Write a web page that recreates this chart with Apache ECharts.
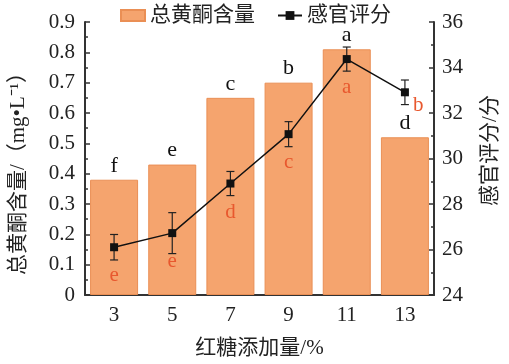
<!DOCTYPE html>
<html><head><meta charset="utf-8">
<script src="https://cdn.jsdelivr.net/npm/echarts@6/dist/echarts.min.js"></script>
<style>html,body{margin:0;padding:0;background:#fff}#c{width:509px;height:364px}</style>
</head><body><div id="c"></div>
<script>
var categories = ['3', '5', '7', '9', '11', '13'];
var flavonoid = [0.38, 0.43, 0.65, 0.70, 0.81, 0.52];
var flavonoidLetters = ['f', 'e', 'c', 'b', 'a', 'd'];
var sensory = [26.1, 26.72, 28.9, 31.07, 34.37, 32.91];
var sensoryErr = [0.56, 0.9, 0.53, 0.55, 0.53, 0.54];
var sensoryLetters = ['e', 'e', 'd', 'c', 'a', 'b'];

var FONT = '"Liberation Serif", "Noto Sans CJK SC", serif';
var chart = echarts.init(document.getElementById('c'));
var axisColor = '#333';

chart.setOption({
  animation: false,
  textStyle: {fontFamily: FONT},
  legend: {
    left: 115, top: 0, itemGap: 22, itemWidth: 24, itemHeight: 11,
    textStyle: {fontFamily: FONT, fontSize: 21, color: '#222'},
    data: [{name: '总黄酮含量', icon: 'rect'}, {name: '感官评分'}]
  },
  grid: {left: 83, right: 72, top: 22, bottom: 67},
  xAxis: [{
    type: 'category', data: categories,
    name: '红糖添加量/%', nameLocation: 'middle', nameGap: 43,
    nameTextStyle: {fontFamily: FONT, fontSize: 21, color: '#222'},
    axisLine: {lineStyle: {color: axisColor, width: 2}},
    axisTick: {inside: true, alignWithLabel: true, length: 5, lineStyle: {color: axisColor, width: 1.5}},
    axisLabel: {fontFamily: FONT, fontSize: 21, color: '#222', margin: 10}
  }, {
    type: 'category', data: categories, position: 'bottom',
    axisLine: {show: false},
    axisTick: {inside: true, length: 3, lineStyle: {color: axisColor, width: 1.5}},
    axisLabel: {show: false}
  }],
  yAxis: [{
    type: 'value', min: 0, max: 0.9, interval: 0.1,
    name: '总黄酮含量/（mg•L⁻¹）', nameLocation: 'middle', nameGap: 56, nameRotate: 90,
    nameTextStyle: {fontFamily: FONT, fontSize: 21, color: '#222', padding: [0, 20, 0, 0]},
    axisLine: {show: true, lineStyle: {color: axisColor, width: 2}},
    axisTick: {show: true, inside: true, length: 5, lineStyle: {color: axisColor, width: 1.5}},
    minorTick: {show: true, splitNumber: 2, length: 3, lineStyle: {color: axisColor, width: 1.5}},
    splitLine: {show: false},
    axisLabel: {fontFamily: FONT, fontSize: 21, color: '#222', margin: 10,
      formatter: function (v) { return v === 0 ? '0' : v.toFixed(1); }}
  }, {
    type: 'value', min: 24, max: 36, interval: 2, position: 'right',
    name: '感官评分/分', nameLocation: 'middle', nameGap: 46, nameRotate: 90,
    nameTextStyle: {fontFamily: FONT, fontSize: 21, color: '#222', padding: [0, 0, 0, 16]},
    axisLine: {show: true, lineStyle: {color: axisColor, width: 2}},
    axisTick: {show: true, inside: true, length: 5, lineStyle: {color: axisColor, width: 1.5}},
    minorTick: {show: true, splitNumber: 2, length: 3, lineStyle: {color: axisColor, width: 1.5}},
    splitLine: {show: false},
    axisLabel: {fontFamily: FONT, fontSize: 21, color: '#222', margin: 8}
  }],
  series: [{
    name: '总黄酮含量', type: 'bar', barWidth: 48,
    data: flavonoid.map(function (v, i) {
      return {value: v, label: {formatter: flavonoidLetters[i]}};
    }),
    itemStyle: {color: '#F5A46E', borderColor: '#EA8F55', borderWidth: 1},
    label: {show: true, position: 'top', distance: 3, fontFamily: FONT, fontSize: 22, color: '#111'}
  }, {
    name: 'err', type: 'custom', yAxisIndex: 1, z: 4,
    data: sensory.map(function (v, i) { return [i, v - sensoryErr[i], v + sensoryErr[i]]; }),
    renderItem: function (params, api) {
      var lo = api.coord([api.value(0), api.value(1)]);
      var hi = api.coord([api.value(0), api.value(2)]);
      var w = 4;
      var st = {stroke: '#222', lineWidth: 1.2};
      return {type: 'group', children: [
        {type: 'line', shape: {x1: lo[0], y1: lo[1], x2: hi[0], y2: hi[1]}, style: st},
        {type: 'line', shape: {x1: lo[0] - w, y1: lo[1], x2: lo[0] + w, y2: lo[1]}, style: st},
        {type: 'line', shape: {x1: hi[0] - w, y1: hi[1], x2: hi[0] + w, y2: hi[1]}, style: st}
      ]};
    },
    encode: {x: 0, y: [1, 2]}
  }, {
    name: '感官评分', type: 'line', yAxisIndex: 1, z: 5,
    symbol: 'rect', symbolSize: 8,
    lineStyle: {color: '#111', width: 1.5},
    itemStyle: {color: '#111'},
    data: sensory.map(function (v, i) {
      var d = {value: v, label: {formatter: sensoryLetters[i]}};
      if (i === sensory.length - 1) {
        d.label.position = 'right';
        d.label.offset = [0, 13];
        d.label.distance = 4;
      }
      return d;
    }),
    label: {show: true, position: 'bottom', distance: 14, fontFamily: FONT, fontSize: 21, color: '#E8582E'}
  }]
});
</script>
</body></html>
